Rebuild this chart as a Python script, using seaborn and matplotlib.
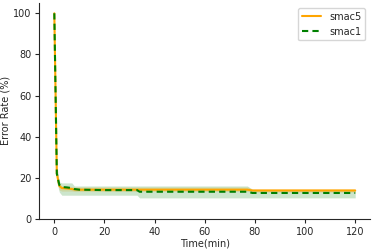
import matplotlib
matplotlib.use("Agg")
import matplotlib.pyplot as plt
import seaborn as sns
import pandas as pd

time = [0, 1, 2, 3, 5, 7, 8, 10, 20, 33, 34, 50, 77, 79, 100, 120]

smac5_mean = [100, 22, 16, 15, 14.8, 14.5, 14.3, 14.2, 14.2, 14.2, 14.2, 14.2, 14.2, 13.8, 13.8, 13.8]
smac5_lo   = [100, 20, 14, 13.5, 13.5, 13.5, 13.3, 13.3, 13.3, 13.3, 13.3, 13.3, 13.3, 13.0, 13.0, 13.0]
smac5_hi   = [100, 24, 17, 16, 15.8, 15.6, 15.5, 15.5, 15.5, 15.5, 15.5, 15.5, 15.5, 14.7, 14.7, 14.7]

smac1_mean = [100, 22, 16.5, 15.5, 15.3, 15.0, 14.5, 14.2, 14.0, 14.0, 13.2, 13.2, 13.2, 12.6, 12.6, 12.6]
smac1_lo   = [100, 18, 13, 11.5, 11.5, 11.5, 11.5, 11.5, 11.5, 11.5, 10.2, 10.2, 10.2, 10.2, 10.2, 10.2]
smac1_hi   = [100, 26, 18, 17.5, 17.5, 17.5, 16, 16, 16, 16, 16, 16, 16, 14.3, 14.3, 14.3]

df = pd.DataFrame({
    "time": time * 2,
    "err": smac5_mean + smac1_mean,
    "method": ["smac5"] * len(time) + ["smac1"] * len(time),
})

sns.set_style("ticks")
fig, ax = plt.subplots(figsize=(3.74, 2.49), dpi=100)
fig.subplots_adjust(left=0.105, right=0.99, bottom=0.121, top=0.988)

ax.fill_between(time, smac5_lo, smac5_hi, color="orange", alpha=0.2, linewidth=0)
ax.fill_between(time, smac1_lo, smac1_hi, color="green", alpha=0.2, linewidth=0)
sns.lineplot(data=df, x="time", y="err", hue="method", style="method",
             palette={"smac5": "orange", "smac1": "green"},
             dashes={"smac5": "", "smac1": (3, 2)}, linewidth=1.5, ax=ax)

ax.set_ylim(0, 105)
ax.set_xlim(-6, 126)
ax.set_xlabel("Time(min)", fontsize=7, labelpad=1.5)
ax.set_ylabel("Error Rate (%)", fontsize=7, labelpad=2)
ax.tick_params(labelsize=7, length=3, width=0.8, pad=2.5)
ax.set_xticks([0, 20, 40, 60, 80, 100, 120])
ax.set_yticks([0, 20, 40, 60, 80, 100])
sns.despine(ax=ax)
leg = ax.legend(loc="upper right", fontsize=7, frameon=True)
leg.get_frame().set_edgecolor("#cccccc")

fig.savefig("out.png", dpi=100)
